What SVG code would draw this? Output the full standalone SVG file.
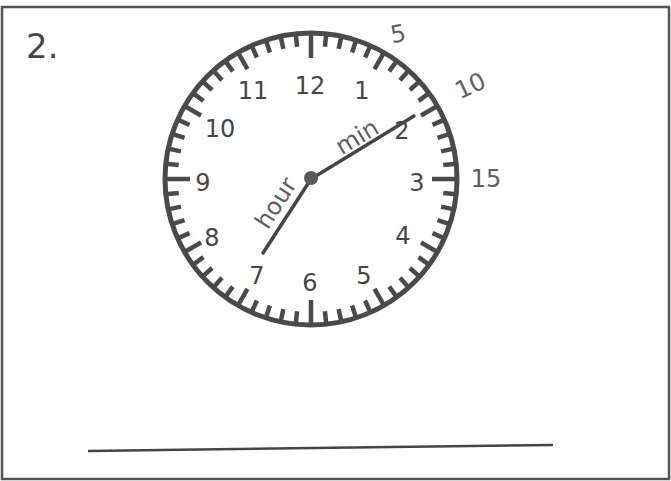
<svg xmlns="http://www.w3.org/2000/svg" xmlns:xlink="http://www.w3.org/1999/xlink" width="671" height="481" viewBox="0 0 671 481">
<style>
.frame{fill:#fff;stroke:#555;stroke-width:2.5}
.face{fill:none;stroke:#4a4a4a;stroke-width:5}
.tick{stroke:#4a4a4a;stroke-width:4.5}
.num{font-family:"DejaVu Sans","Liberation Sans",sans-serif;font-size:24px;fill:#454545;text-anchor:middle}
.hand{stroke:#454545;stroke-width:3.5;stroke-linecap:round;fill:none}
.hw{font-family:"DejaVu Sans","Liberation Sans",sans-serif;font-size:24px;fill:#5e5e5e;text-anchor:middle}
.title{font-family:"DejaVu Sans","Liberation Sans",sans-serif;font-size:34px;fill:#454545}
</style>
<defs>
<line id="m" class="tick" x1="311" y1="33" x2="311" y2="46"/>
<line id="h" class="tick" x1="311" y1="33" x2="311" y2="52"/>
<line id="q" class="tick" x1="311" y1="33" x2="311" y2="58"/>
</defs>
<rect class="frame" x="2" y="7" width="667" height="472"/>
<g id="label"><text class="title" x="26" y="58">2.</text></g>
<g id="clock">
<circle class="face" cx="311" cy="179" r="146"/>
<g id="ticks">
<use xlink:href="#q" transform="rotate(0 311 179)"/>
<use xlink:href="#m" transform="rotate(6 311 179)"/>
<use xlink:href="#m" transform="rotate(12 311 179)"/>
<use xlink:href="#m" transform="rotate(18 311 179)"/>
<use xlink:href="#m" transform="rotate(24 311 179)"/>
<use xlink:href="#h" transform="rotate(30 311 179)"/>
<use xlink:href="#m" transform="rotate(36 311 179)"/>
<use xlink:href="#m" transform="rotate(42 311 179)"/>
<use xlink:href="#m" transform="rotate(48 311 179)"/>
<use xlink:href="#m" transform="rotate(54 311 179)"/>
<use xlink:href="#h" transform="rotate(60 311 179)"/>
<use xlink:href="#m" transform="rotate(66 311 179)"/>
<use xlink:href="#m" transform="rotate(72 311 179)"/>
<use xlink:href="#m" transform="rotate(78 311 179)"/>
<use xlink:href="#m" transform="rotate(84 311 179)"/>
<use xlink:href="#q" transform="rotate(90 311 179)"/>
<use xlink:href="#m" transform="rotate(96 311 179)"/>
<use xlink:href="#m" transform="rotate(102 311 179)"/>
<use xlink:href="#m" transform="rotate(108 311 179)"/>
<use xlink:href="#m" transform="rotate(114 311 179)"/>
<use xlink:href="#h" transform="rotate(120 311 179)"/>
<use xlink:href="#m" transform="rotate(126 311 179)"/>
<use xlink:href="#m" transform="rotate(132 311 179)"/>
<use xlink:href="#m" transform="rotate(138 311 179)"/>
<use xlink:href="#m" transform="rotate(144 311 179)"/>
<use xlink:href="#h" transform="rotate(150 311 179)"/>
<use xlink:href="#m" transform="rotate(156 311 179)"/>
<use xlink:href="#m" transform="rotate(162 311 179)"/>
<use xlink:href="#m" transform="rotate(168 311 179)"/>
<use xlink:href="#m" transform="rotate(174 311 179)"/>
<use xlink:href="#q" transform="rotate(180 311 179)"/>
<use xlink:href="#m" transform="rotate(186 311 179)"/>
<use xlink:href="#m" transform="rotate(192 311 179)"/>
<use xlink:href="#m" transform="rotate(198 311 179)"/>
<use xlink:href="#m" transform="rotate(204 311 179)"/>
<use xlink:href="#h" transform="rotate(210 311 179)"/>
<use xlink:href="#m" transform="rotate(216 311 179)"/>
<use xlink:href="#m" transform="rotate(222 311 179)"/>
<use xlink:href="#m" transform="rotate(228 311 179)"/>
<use xlink:href="#m" transform="rotate(234 311 179)"/>
<use xlink:href="#h" transform="rotate(240 311 179)"/>
<use xlink:href="#m" transform="rotate(246 311 179)"/>
<use xlink:href="#m" transform="rotate(252 311 179)"/>
<use xlink:href="#m" transform="rotate(258 311 179)"/>
<use xlink:href="#m" transform="rotate(264 311 179)"/>
<use xlink:href="#q" transform="rotate(270 311 179)"/>
<use xlink:href="#m" transform="rotate(276 311 179)"/>
<use xlink:href="#m" transform="rotate(282 311 179)"/>
<use xlink:href="#m" transform="rotate(288 311 179)"/>
<use xlink:href="#m" transform="rotate(294 311 179)"/>
<use xlink:href="#h" transform="rotate(300 311 179)"/>
<use xlink:href="#m" transform="rotate(306 311 179)"/>
<use xlink:href="#m" transform="rotate(312 311 179)"/>
<use xlink:href="#m" transform="rotate(318 311 179)"/>
<use xlink:href="#m" transform="rotate(324 311 179)"/>
<use xlink:href="#h" transform="rotate(330 311 179)"/>
<use xlink:href="#m" transform="rotate(336 311 179)"/>
<use xlink:href="#m" transform="rotate(342 311 179)"/>
<use xlink:href="#m" transform="rotate(348 311 179)"/>
<use xlink:href="#m" transform="rotate(354 311 179)"/>
</g>
<g id="numbers">
<text class="num" x="310" y="94">12</text>
<text class="num" x="362" y="99">1</text>
<text class="num" x="402" y="139">2</text>
<text class="num" x="417" y="191">3</text>
<text class="num" x="403" y="244">4</text>
<text class="num" x="364" y="284">5</text>
<text class="num" x="310" y="291">6</text>
<text class="num" x="257" y="284">7</text>
<text class="num" x="212" y="246">8</text>
<text class="num" x="203" y="191">9</text>
<text class="num" x="220" y="137">10</text>
<text class="num" x="253" y="99">11</text>
</g>
<g id="hands">
<line class="hand" x1="311" y1="179" x2="414" y2="116"/>
<line class="hand" x1="311" y1="179" x2="263" y2="253"/>
<circle cx="311" cy="178" r="7" fill="#5a5a5a"/>
</g>
</g>
<g id="handwriting">
<text class="hw" x="398" y="42" transform="rotate(-10 398 33)">5</text>
<text class="hw" x="470" y="94" transform="rotate(-25 470 85)">10</text>
<text class="hw" x="486" y="187">15</text>
<text class="hw" x="357" y="145" transform="rotate(-31 357 137)">min</text>
<text class="hw" x="276" y="211" transform="rotate(-57 276 203)">hour</text>
</g>
<line x1="88" y1="451" x2="553" y2="445" stroke="#454545" stroke-width="2.5"/>
</svg>
